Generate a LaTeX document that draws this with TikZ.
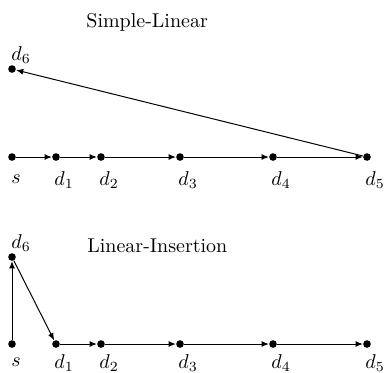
\documentclass[tikz,border=0pt]{standalone}
\usetikzlibrary{arrows.meta}
\begin{document}
\begin{tikzpicture}[x=0.5pt,y=-0.5pt,
  dot/.style={circle,fill=black,inner sep=0pt,minimum size=3.8pt},
  lbl/.style={inner sep=0pt,anchor=base west},
  ttl/.style={inner sep=0pt,anchor=base west},
  arr/.style={line width=0.5pt,-{Latex[length=3.6pt,width=3pt]}}]
\useasboundingbox (0,0) rectangle (385,372);
% top: Simple-Linear
\node[ttl] (t1) at (86,27) {Simple-Linear};
\node[dot] (as) at (12,157) {};
\node[dot] (a1) at (56,157) {};
\node[dot] (a2) at (101,157) {};
\node[dot] (a3) at (180,157) {};
\node[dot] (a4) at (273,157) {};
\node[dot] (a5) at (367,157) {};
\node[dot] (a6) at (12,69) {};
\node[lbl] (las) at (11,183) {$s$};
\node[lbl] (la1) at (54,185) {$d_1$};
\node[lbl] (la2) at (99,185) {$d_2$};
\node[lbl] (la3) at (178,185) {$d_3$};
\node[lbl] (la4) at (271,185) {$d_4$};
\node[lbl] (la5) at (365,185) {$d_5$};
\node[lbl] (la6) at (11,60) {$d_6$};
\draw[arr] (as) -- (a1);
\draw[arr] (a1) -- (a2);
\draw[arr] (a2) -- (a3);
\draw[arr] (a3) -- (a4);
\draw[arr] (a4) -- (a5);
\draw[arr] (a5) -- (a6);
% bottom: Linear-Insertion
\node[ttl] (t2) at (87,252) {Linear-Insertion};
\node[dot] (bs) at (12,344) {};
\node[dot] (b1) at (56,344) {};
\node[dot] (b2) at (101,344) {};
\node[dot] (b3) at (180,344) {};
\node[dot] (b4) at (273,344) {};
\node[dot] (b5) at (367,344) {};
\node[dot] (b6) at (12,257) {};
\node[lbl] (lbs) at (11,366) {$s$};
\node[lbl] (lb1) at (54,368) {$d_1$};
\node[lbl] (lb2) at (99,368) {$d_2$};
\node[lbl] (lb3) at (178,368) {$d_3$};
\node[lbl] (lb4) at (271,368) {$d_4$};
\node[lbl] (lb5) at (365,368) {$d_5$};
\node[lbl] (lb6) at (11,248) {$d_6$};
\draw[arr] (bs) -- (b6);
\draw[arr] (b6) -- (b1);
\draw[arr] (b1) -- (b2);
\draw[arr] (b2) -- (b3);
\draw[arr] (b3) -- (b4);
\draw[arr] (b4) -- (b5);
\end{tikzpicture}
\end{document}
